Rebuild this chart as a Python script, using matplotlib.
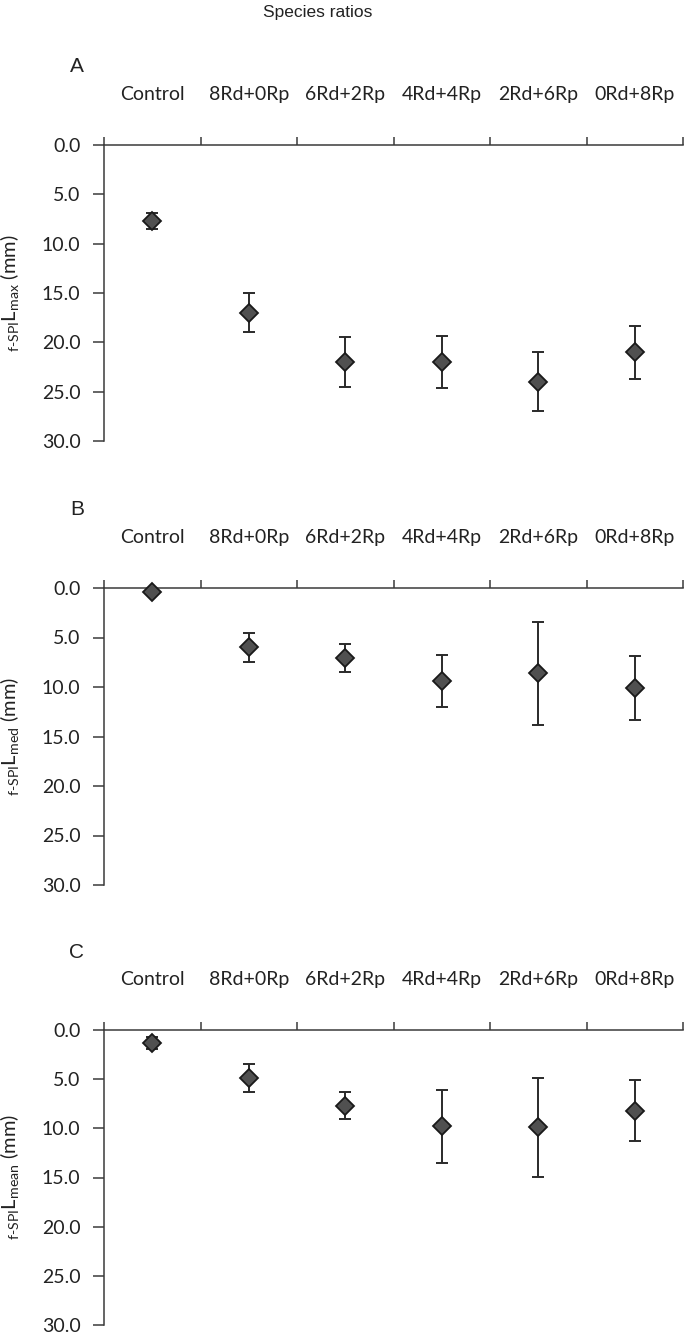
import matplotlib
matplotlib.use("Agg")
import matplotlib.pyplot as plt
from matplotlib.ticker import FixedLocator, FormatStrFormatter, NullFormatter

categories = ["Control", "8Rd+0Rp", "6Rd+2Rp", "4Rd+4Rp", "2Rd+6Rp", "0Rd+8Rp"]

lmax_mean = [7.7, 17.0, 22.0, 22.0, 24.0, 21.0]
lmax_err = [0.8, 2.0, 2.5, 2.6, 3.0, 2.7]

lmed_mean = [0.4, 6.0, 7.1, 9.4, 8.6, 10.1]
lmed_err = [0.0, 1.45, 1.4, 2.6, 5.2, 3.2]

lmean_mean = [1.35, 4.9, 7.7, 9.8, 9.9, 8.2]
lmean_err = [0.6, 1.45, 1.35, 3.7, 5.0, 3.1]

panel_letters = ["A", "B", "C"]
ylabels = [r"${}_{\text{f-SPI}}\mathregular{L}_{\mathregular{max}}$ (mm)",
           r"${}_{\text{f-SPI}}\mathregular{L}_{\mathregular{med}}$ (mm)",
           r"${}_{\text{f-SPI}}\mathregular{L}_{\mathregular{mean}}$ (mm)"]
yticks = [0, 5, 10, 15, 20, 25, 30]

plt.rcParams['font.family'] = ['Lato', 'DejaVu Sans']
plt.rcParams['mathtext.fontset'] = 'custom'
plt.rcParams['mathtext.rm'] = 'Lato'

W, H = 685, 1342
fig = plt.figure(figsize=(W / 100, H / 100), dpi=100)

axc = '#3a3a3a'
# (top px, bottom px)
panels = [(145, 441), (588, 885), (1030, 1325)]
left_px, right_px = 104, 683
series = [(lmax_mean, lmax_err), (lmed_mean, lmed_err), (lmean_mean, lmean_err)]

for i, ((top, bot), (m, e)) in enumerate(zip(panels, series)):
    ax = fig.add_axes([left_px / W, 1 - bot / H, (right_px - left_px) / W, (bot - top) / H])
    x = list(range(len(categories)))
    ax.errorbar(x, m, yerr=e, fmt='none', ecolor='#2a2a2a', elinewidth=1.4,
                capsize=4.5, capthick=1.4, zorder=2)
    ax.plot(x, m, linestyle='none', marker='D', markersize=9.2,
            markerfacecolor='#505050', markeredgecolor='#1a1a1a',
            markeredgewidth=1.3, zorder=3, clip_on=False)
    ax.set_xlim(-0.5, len(categories) - 0.5)
    ax.set_ylim(30, 0)
    ax.set_yticks(yticks)
    ax.yaxis.set_major_formatter(FormatStrFormatter('%.1f'))
    ax.tick_params(axis='y', direction='out', length=8, width=1.1, color=axc,
                   labelsize=14, pad=9, labelcolor='#222222')
    ax.xaxis.set_ticks_position('top')
    ax.xaxis.set_major_locator(FixedLocator([k - 0.5 for k in range(len(categories) + 1)]))
    ax.xaxis.set_major_formatter(NullFormatter())
    ax.xaxis.set_minor_locator(FixedLocator(x))
    ax.set_xticklabels(categories, minor=True)
    ax.tick_params(axis='x', which='major', direction='out', length=6, width=1.1, color=axc)
    ax.tick_params(axis='x', which='minor', length=0, labelsize=14, pad=30,
                   labelcolor='#222222', labeltop=True, labelbottom=False)
    for s in ['bottom', 'right']:
        ax.spines[s].set_visible(False)
    for s in ['top', 'left']:
        ax.spines[s].set_color(axc)
        ax.spines[s].set_linewidth(1.1)
    ax.set_ylabel(ylabels[i], fontsize=14.5, color='#222222')
    ax.yaxis.set_label_coords(-0.142, 0.5)
    fig.text(77 / W, 1 - (top - 78) / H, panel_letters[i], fontsize=15,
             family='Liberation Sans', ha='center', va='center', color='#222222')

fig.text(318 / W, 1 - 13 / H, "Species ratios", fontsize=12.5,
         family='Liberation Sans', ha='center', va='center', color='#222222')

fig.savefig("out.png", dpi=100)
